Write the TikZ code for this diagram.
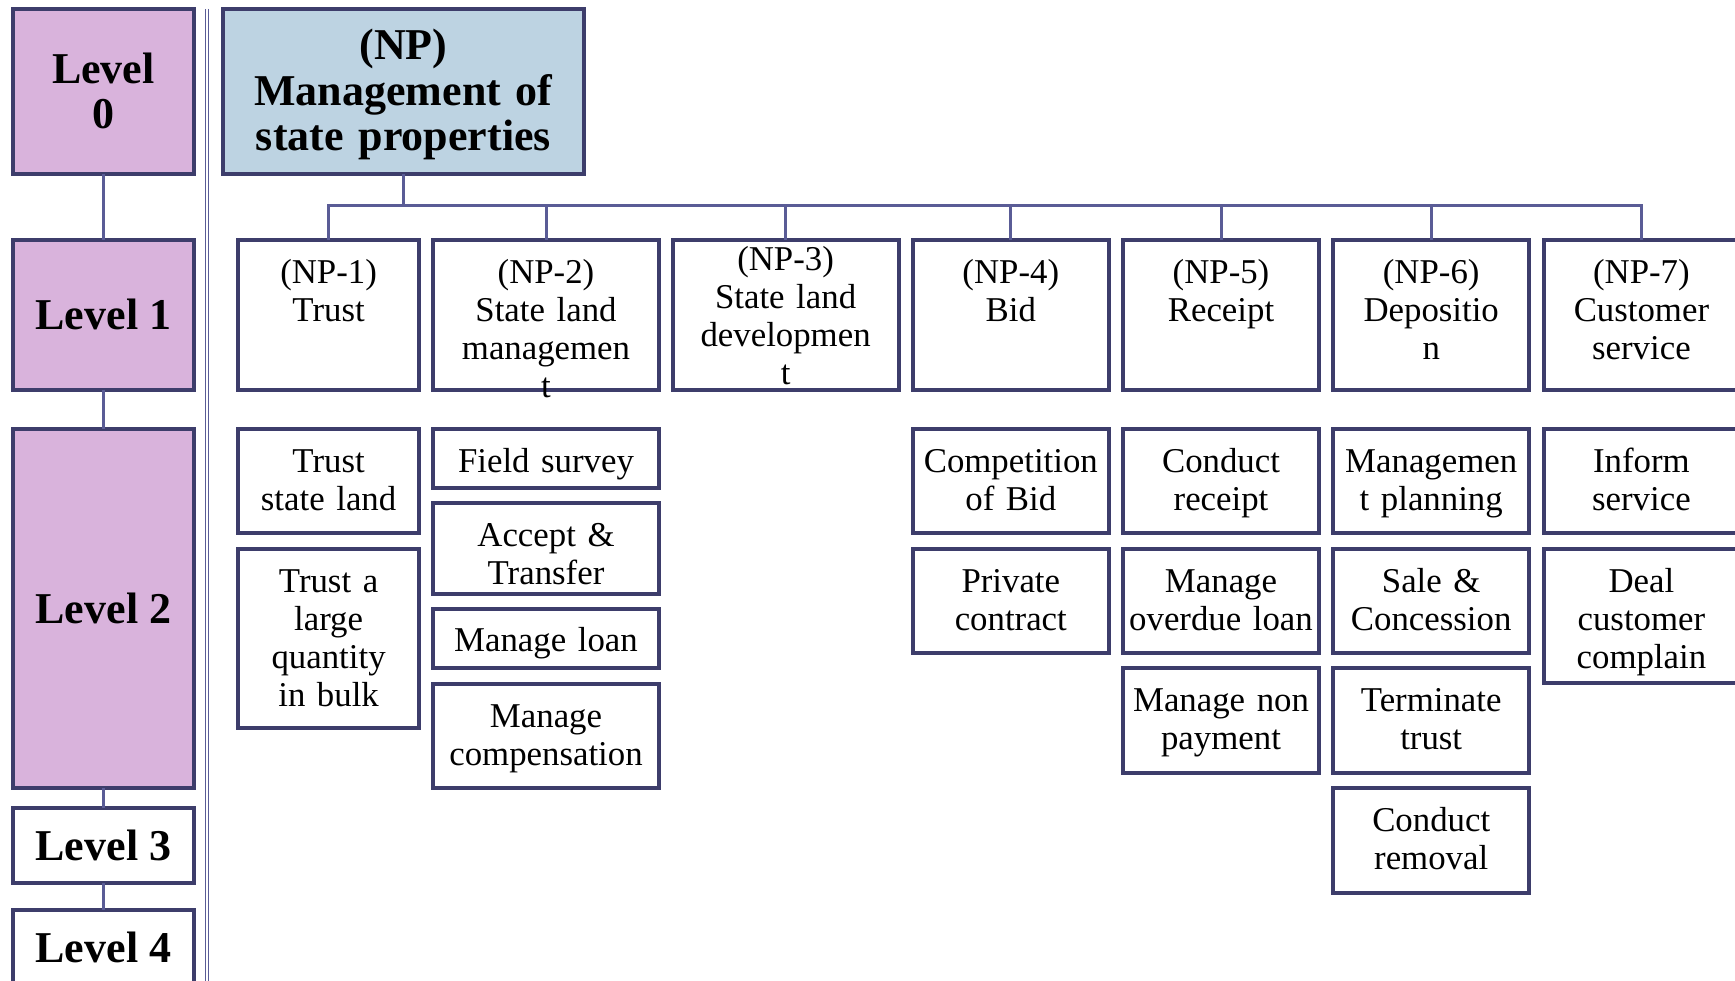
\documentclass[tikz,border=0pt]{standalone}
\usepackage{fontspec}
\setmainfont{Liberation Serif}
\usetikzlibrary{calc}

\definecolor{levelpink}{HTML}{D9B3DC}
\definecolor{headblue}{HTML}{BDD3E2}
\definecolor{boxline}{HTML}{3D3D6B}
\definecolor{linkline}{HTML}{5A5C96}

\newcommand{\cellfont}{\fontsize{17.4}{19}\selectfont}
\newcommand{\headfont}{\fontsize{22}{22.7}\selectfont\bfseries}

\begin{document}
\begin{tikzpicture}[x=1pt,y=-1pt,
    levelbox/.style={draw=boxline, line width=2pt, fill=levelpink, minimum width=90.2pt,
      inner sep=0pt, outer sep=0pt, align=center, font=\headfont},
    headbox/.style={draw=boxline, line width=2pt, fill=headblue, text width=180.9pt,
      inner sep=0pt, outer sep=0pt, align=center, font=\headfont,
      text height=25.4pt, text depth=57pt},
    taskbox/.style 2 args={draw=boxline, line width=2pt, fill=white, text width=#1,
      align=center, inner sep=0pt, outer sep=0pt, anchor=north, font=\cellfont,
      text height=21.6pt, text depth=#2},
    link/.style={draw=linkline, line width=1.5pt},
    sepline/.style={draw=linkline, line width=0.6pt, double=white, double distance=1.2pt}
  ]
  \useasboundingbox (0,0) rectangle (867.5,490.2);

  % Levels
  \node[levelbox, minimum height=82.4pt] (lv0) at (51.7,45.6) {Level\\0};
  \node[levelbox, minimum height=74.7pt] (lv1) at (51.7,157.4) {Level 1};
  \node[levelbox, minimum height=179.3pt] (lv2) at (51.7,304.3) {Level 2};
  \node[levelbox, fill=white, minimum height=37.6pt] (lv3) at (51.7,422.7) {Level 3};
  \node[levelbox, fill=white, minimum height=37.6pt] (lv4) at (51.7,473.6) {Level 4};

  \draw[link] (lv0.south) -- (lv1.north);
  \draw[link] (lv1.south) -- (lv2.north);
  \draw[link] (lv2.south) -- (lv3.north);
  \draw[link] (lv3.south) -- (lv4.north);

  % Separator
  \coordinate (septop) at (103.5,4.4);
  \coordinate (sepbot) at (103.5,495);
  \draw[sepline] (septop) -- (sepbot);

  % Level 0
  \node[headbox] (np) at (201.7,4.4) [anchor=north] {(NP)\\Management of\\state properties};

  % Level 1
  \node[taskbox={90.7pt}{53.1pt}] (np1) at (164.3,120.1) {(NP-1)\\Trust};
  \node[taskbox={113.4pt}{53.1pt}] (np2) at (273.0,120.1) {(NP-2)\\State land\\managemen\\t};
  \node[taskbox={112.9pt}{59.7pt}, text height=15pt] (np3) at (392.8,120.1)
    {(NP-3)\\State land\\developmen\\t};
  \node[taskbox={97.9pt}{53.1pt}] (np4) at (505.4,120.1) {(NP-4)\\Bid};
  \node[taskbox={97.9pt}{53.1pt}] (np5) at (610.5,120.1) {(NP-5)\\Receipt};
  \node[taskbox={97.9pt}{53.1pt}] (np6) at (715.6,120.1) {(NP-6)\\Depositio\\n};
  \node[taskbox={97.9pt}{53.1pt}] (np7) at (820.7,120.1) {(NP-7)\\Customer\\service};

  % Bus
  \coordinate (bus) at (0,102.9);
  \draw[link] (np.south) -- (np.south |- bus);
  \draw[link] (np1.north) |- (np7.north |- bus) -- (np7.north);
  \draw[link] (np2.north) -- (np2.north |- bus);
  \draw[link] (np3.north) -- (np3.north |- bus);
  \draw[link] (np4.north) -- (np4.north |- bus);
  \draw[link] (np5.north) -- (np5.north |- bus);
  \draw[link] (np6.north) -- (np6.north |- bus);

  % Level 2
  \node[taskbox={90.7pt}{30.4pt}] (t11) at (164.3,214.7) {Trust\\state land};
  \node[taskbox={90.7pt}{68pt}] (t12) at (164.3,274.4) {Trust a\\large\\quantity\\in bulk};

  \node[taskbox={113.4pt}{7.7pt}] (t21) at (273.0,214.7) {Field survey};
  \node[taskbox={113.4pt}{23.8pt}] (t22) at (273.0,251.7) {Accept \&\\Transfer};
  \node[taskbox={113.4pt}{8.3pt}] (t23) at (273.0,304.3) {Manage loan};
  \node[taskbox={113.4pt}{30.4pt}] (t24) at (273.0,341.9) {Manage\\compensation};

  \node[taskbox={97.9pt}{30.4pt}] (t41) at (505.4,214.7) {Competition\\of Bid};
  \node[taskbox={97.9pt}{30.4pt}] (t42) at (505.4,274.4) {Private\\contract};

  \node[taskbox={97.9pt}{30.4pt}] (t51) at (610.5,214.7) {Conduct\\receipt};
  \node[taskbox={97.9pt}{30.4pt}] (t52) at (610.5,274.4) {Manage\\overdue loan};
  \node[taskbox={97.9pt}{30.9pt}] (t53) at (610.5,334.2) {Manage non\\payment};

  \node[taskbox={97.9pt}{30.4pt}] (t61) at (715.6,214.7) {Managemen\\t planning};
  \node[taskbox={97.9pt}{30.4pt}] (t62) at (715.6,274.4) {Sale \&\\Concession};
  \node[taskbox={97.9pt}{30.9pt}] (t63) at (715.6,334.2) {Terminate\\trust};
  \node[taskbox={97.9pt}{30.9pt}] (t64) at (715.6,393.9) {Conduct\\removal};

  \node[taskbox={97.9pt}{30.4pt}] (t71) at (820.7,214.7) {Inform\\service};
  \node[taskbox={97.9pt}{45.4pt}] (t72) at (820.7,274.4) {Deal\\customer\\complain};

\end{tikzpicture}
\end{document}
